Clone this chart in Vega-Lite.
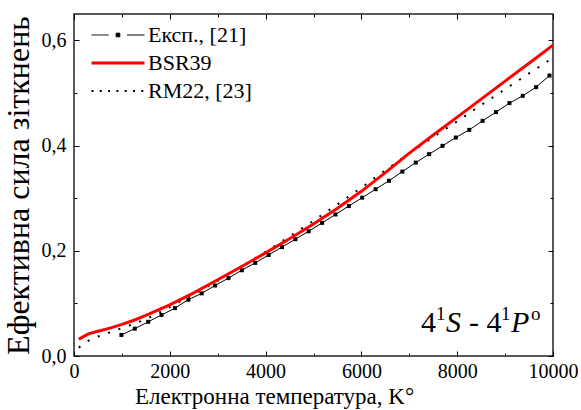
{
  "$schema": "https://vega.github.io/schema/vega-lite/v6.json",
  "width": 479,
  "height": 342,
  "autosize": {"type": "none"},
  "padding": {"left": 74, "top": 14, "right": 28, "bottom": 54},
  "background": "white",
  "config": {
    "view": {"stroke": "#222", "strokeWidth": 1.5},
    "font": "Liberation Serif",
    "axis": {"domain": false, "grid": false, "tickColor": "#000", "tickWidth": 1, "labelColor": "#000", "titleColor": "#000", "labelFont": "Liberation Serif", "titleFont": "Liberation Serif", "titleFontWeight": "normal", "labelFlush": false, "labelOverlap": false}
  },
  "data": {"values": [
    {"s": "BSR39", "T": 100, "v": 0.032}, {"s": "BSR39", "T": 300, "v": 0.042}, {"s": "BSR39", "T": 500, "v": 0.047}, {"s": "BSR39", "T": 750, "v": 0.053}, {"s": "BSR39", "T": 1000, "v": 0.060}, {"s": "BSR39", "T": 1250, "v": 0.068}, {"s": "BSR39", "T": 1500, "v": 0.077}, {"s": "BSR39", "T": 1750, "v": 0.087}, {"s": "BSR39", "T": 2000, "v": 0.097}, {"s": "BSR39", "T": 2500, "v": 0.120}, {"s": "BSR39", "T": 3000, "v": 0.145}, {"s": "BSR39", "T": 3500, "v": 0.170}, {"s": "BSR39", "T": 4000, "v": 0.196}, {"s": "BSR39", "T": 4500, "v": 0.223}, {"s": "BSR39", "T": 5000, "v": 0.251}, {"s": "BSR39", "T": 5500, "v": 0.281}, {"s": "BSR39", "T": 6000, "v": 0.313}, {"s": "BSR39", "T": 6500, "v": 0.3486}, {"s": "BSR39", "T": 7000, "v": 0.3857}, {"s": "BSR39", "T": 7500, "v": 0.4199}, {"s": "BSR39", "T": 8000, "v": 0.454}, {"s": "BSR39", "T": 8500, "v": 0.4882}, {"s": "BSR39", "T": 9000, "v": 0.5224}, {"s": "BSR39", "T": 9500, "v": 0.5565}, {"s": "BSR39", "T": 10000, "v": 0.5907},
    {"s": "RM22, [23]", "T": 100, "v": 0.016}, {"s": "RM22, [23]", "T": 300, "v": 0.029}, {"s": "RM22, [23]", "T": 500, "v": 0.037}, {"s": "RM22, [23]", "T": 750, "v": 0.045}, {"s": "RM22, [23]", "T": 1000, "v": 0.053}, {"s": "RM22, [23]", "T": 1250, "v": 0.061}, {"s": "RM22, [23]", "T": 1500, "v": 0.070}, {"s": "RM22, [23]", "T": 1750, "v": 0.081}, {"s": "RM22, [23]", "T": 2000, "v": 0.093}, {"s": "RM22, [23]", "T": 2500, "v": 0.117}, {"s": "RM22, [23]", "T": 3000, "v": 0.143}, {"s": "RM22, [23]", "T": 3500, "v": 0.170}, {"s": "RM22, [23]", "T": 4000, "v": 0.198}, {"s": "RM22, [23]", "T": 4500, "v": 0.227}, {"s": "RM22, [23]", "T": 5000, "v": 0.257}, {"s": "RM22, [23]", "T": 5500, "v": 0.288}, {"s": "RM22, [23]", "T": 6000, "v": 0.320}, {"s": "RM22, [23]", "T": 6500, "v": 0.353}, {"s": "RM22, [23]", "T": 7000, "v": 0.385}, {"s": "RM22, [23]", "T": 7500, "v": 0.416}, {"s": "RM22, [23]", "T": 8000, "v": 0.446}, {"s": "RM22, [23]", "T": 8500, "v": 0.477}, {"s": "RM22, [23]", "T": 9000, "v": 0.507}, {"s": "RM22, [23]", "T": 9500, "v": 0.537}, {"s": "RM22, [23]", "T": 10000, "v": 0.567},
    {"s": "Експ., [21]", "T": 990, "v": 0.040}, {"s": "Експ., [21]", "T": 1269, "v": 0.052}, {"s": "Експ., [21]", "T": 1549, "v": 0.065}, {"s": "Експ., [21]", "T": 1828, "v": 0.078}, {"s": "Експ., [21]", "T": 2107, "v": 0.091}, {"s": "Експ., [21]", "T": 2387, "v": 0.107}, {"s": "Експ., [21]", "T": 2666, "v": 0.119}, {"s": "Експ., [21]", "T": 2945, "v": 0.134}, {"s": "Експ., [21]", "T": 3224, "v": 0.148}, {"s": "Експ., [21]", "T": 3504, "v": 0.163}, {"s": "Експ., [21]", "T": 3783, "v": 0.177}, {"s": "Експ., [21]", "T": 4062, "v": 0.192}, {"s": "Експ., [21]", "T": 4342, "v": 0.207}, {"s": "Експ., [21]", "T": 4621, "v": 0.222}, {"s": "Експ., [21]", "T": 4900, "v": 0.237}, {"s": "Експ., [21]", "T": 5180, "v": 0.253}, {"s": "Експ., [21]", "T": 5459, "v": 0.269}, {"s": "Експ., [21]", "T": 5738, "v": 0.285}, {"s": "Експ., [21]", "T": 6017, "v": 0.301}, {"s": "Експ., [21]", "T": 6297, "v": 0.317}, {"s": "Експ., [21]", "T": 6576, "v": 0.333}, {"s": "Експ., [21]", "T": 6855, "v": 0.3505}, {"s": "Експ., [21]", "T": 7135, "v": 0.3676}, {"s": "Експ., [21]", "T": 7414, "v": 0.3836}, {"s": "Експ., [21]", "T": 7693, "v": 0.3994}, {"s": "Експ., [21]", "T": 7972, "v": 0.4152}, {"s": "Експ., [21]", "T": 8252, "v": 0.4298}, {"s": "Експ., [21]", "T": 8531, "v": 0.447}, {"s": "Експ., [21]", "T": 8810, "v": 0.4635}, {"s": "Експ., [21]", "T": 9090, "v": 0.4806}, {"s": "Експ., [21]", "T": 9369, "v": 0.4945}, {"s": "Експ., [21]", "T": 9648, "v": 0.511}, {"s": "Експ., [21]", "T": 9927, "v": 0.533}
  ]},
  "resolve": {"axis": {"x": "independent", "y": "independent"}},
  "layer": [
    {
      "transform": [{"filter": "datum.s === 'Експ., [21]'"}],
      "mark": {"type": "line", "strokeWidth": 1, "clip": true},
      "encoding": {
        "x": {"field": "T", "type": "quantitative", "scale": {"domain": [0, 10000], "nice": false, "zero": false},
          "axis": {"orient": "bottom", "values": [1000, 3000, 5000, 7000, 9000], "tickSize": -3, "labels": false, "title": null}},
        "y": {"field": "v", "type": "quantitative", "scale": {"domain": [0, 0.65], "nice": false},
          "axis": {"orient": "left", "values": [0.1, 0.3, 0.5], "tickSize": -3, "labels": false, "title": null}},
        "color": {"field": "s", "type": "nominal",
          "scale": {"domain": ["Експ., [21]", "BSR39", "RM22, [23]"], "range": ["#000000", "#ff0000", "#000000"]},
          "legend": {
            "orient": "none", "legendX": 15, "legendY": 10, "title": null, "padding": 0,
            "labelFont": "Liberation Serif", "labelFontSize": 22, "labelColor": "#000",
            "symbolType": "stroke", "symbolSize": 2809, "symbolOffset": 18, "labelOffset": 19, "rowPadding": 6,
            "encode": {
              "symbols": {"update": {
              "shape": {"signal": "datum.value === 'Експ., [21]' ? 'M-1,0H-0.35M-0.07,-0.07H0.07V0.07H-0.07ZM0.34,0H1' : 'stroke'"},
              "strokeWidth": {"signal": "datum.value === 'BSR39' ? 3 : (datum.value === 'RM22, [23]' ? 2 : 1)"},
              "strokeDash": {"signal": "datum.value === 'RM22, [23]' ? [2, 6.3] : [1, 0]"},
              "fill": {"signal": "datum.value === 'Експ., [21]' ? '#000' : 'transparent'"},
              "stroke": {"signal": "datum.value === 'BSR39' ? '#ff0000' : '#000'"},
              "opacity": {"value": 1}
            }}}
          }}
      }
    },
    {
      "transform": [{"filter": "datum.s === 'Експ., [21]'"}],
      "mark": {"type": "point", "shape": "square", "filled": true, "size": 16, "color": "#000", "opacity": 1},
      "encoding": {
        "x": {"field": "T", "type": "quantitative", "scale": {"domain": [0, 10000], "nice": false, "zero": false},
          "axis": {"orient": "top", "values": [0, 2000, 4000, 6000, 8000, 10000], "tickSize": -5, "labels": false, "title": null}},
        "y": {"field": "v", "type": "quantitative", "scale": {"domain": [0, 0.65], "nice": false},
          "axis": {"orient": "right", "values": [0, 0.2, 0.4, 0.6], "tickSize": -5, "labels": false, "title": null}}
      }
    },
    {
      "transform": [{"filter": "datum.s === 'RM22, [23]'"}],
      "mark": {"type": "line", "strokeWidth": 2, "strokeDash": [2, 9], "clip": true},
      "encoding": {
        "x": {"field": "T", "type": "quantitative", "scale": {"domain": [0, 10000], "nice": false, "zero": false},
          "axis": {"orient": "top", "values": [1000, 3000, 5000, 7000, 9000], "tickSize": -3, "labels": false, "title": null}},
        "y": {"field": "v", "type": "quantitative", "scale": {"domain": [0, 0.65], "nice": false},
          "axis": {"orient": "right", "values": [0.1, 0.3, 0.5], "tickSize": -3, "labels": false, "title": null}},
        "color": {"field": "s", "type": "nominal"}
      }
    },
    {
      "transform": [{"filter": "datum.s === 'BSR39'"}],
      "mark": {"type": "line", "strokeWidth": 3, "clip": true},
      "encoding": {
        "x": {"field": "T", "type": "quantitative", "scale": {"domain": [0, 10000], "nice": false, "zero": false},
          "axis": {"orient": "bottom", "values": [0, 2000, 4000, 6000, 8000, 10000], "tickSize": -5, "format": "d",
            "labelFontSize": 20, "labelPadding": 10, "title": "Електронна температура, K°", "titleFontSize": 23, "titlePadding": 4, "titleX": 200}},
        "y": {"field": "v", "type": "quantitative", "scale": {"domain": [0, 0.65], "nice": false},
          "axis": {"orient": "left", "values": [0, 0.2, 0.4, 0.6], "tickSize": -5,
            "labelExpr": "replace(format(datum.value, '.1f'), '.', ',')",
            "labelFontSize": 20, "labelPadding": 13, "title": "Ефективна сила зіткнень", "titleFontSize": 32, "titlePadding": 6}},
        "color": {"field": "s", "type": "nominal"}
      }
    },
    {
      "data": {"values": [{"t": "4"}]},
      "mark": {"type": "text", "align": "left", "baseline": "alphabetic", "fontSize": 30, "font": "Liberation Serif", "color": "#000"},
      "encoding": {"x": {"datum": 7245, "type": "quantitative", "axis": null}, "y": {"datum": 0.0456, "type": "quantitative", "axis": null}, "text": {"field": "t"}}
    },
    {
      "data": {"values": [{"t": "1"}]},
      "mark": {"type": "text", "align": "left", "baseline": "alphabetic", "fontSize": 19, "dx": 15, "dy": -12, "font": "Liberation Serif", "color": "#000"},
      "encoding": {"x": {"datum": 7245, "type": "quantitative", "axis": null}, "y": {"datum": 0.0456, "type": "quantitative", "axis": null}, "text": {"field": "t"}}
    },
    {
      "data": {"values": [{"t": "S"}]},
      "mark": {"type": "text", "align": "left", "baseline": "alphabetic", "fontSize": 30, "fontStyle": "italic", "dx": 25, "font": "Liberation Serif", "color": "#000"},
      "encoding": {"x": {"datum": 7245, "type": "quantitative", "axis": null}, "y": {"datum": 0.0456, "type": "quantitative", "axis": null}, "text": {"field": "t"}}
    },
    {
      "data": {"values": [{"t": "- 4"}]},
      "mark": {"type": "text", "align": "left", "baseline": "alphabetic", "fontSize": 30, "dx": 48, "font": "Liberation Serif", "color": "#000"},
      "encoding": {"x": {"datum": 7245, "type": "quantitative", "axis": null}, "y": {"datum": 0.0456, "type": "quantitative", "axis": null}, "text": {"field": "t"}}
    },
    {
      "data": {"values": [{"t": "1"}]},
      "mark": {"type": "text", "align": "left", "baseline": "alphabetic", "fontSize": 19, "dx": 80, "dy": -12, "font": "Liberation Serif", "color": "#000"},
      "encoding": {"x": {"datum": 7245, "type": "quantitative", "axis": null}, "y": {"datum": 0.0456, "type": "quantitative", "axis": null}, "text": {"field": "t"}}
    },
    {
      "data": {"values": [{"t": "P"}]},
      "mark": {"type": "text", "align": "left", "baseline": "alphabetic", "fontSize": 30, "fontStyle": "italic", "dx": 90, "font": "Liberation Serif", "color": "#000"},
      "encoding": {"x": {"datum": 7245, "type": "quantitative", "axis": null}, "y": {"datum": 0.0456, "type": "quantitative", "axis": null}, "text": {"field": "t"}}
    },
    {
      "data": {"values": [{"t": "o"}]},
      "mark": {"type": "text", "align": "left", "baseline": "alphabetic", "fontSize": 19, "dx": 110, "dy": -12, "font": "Liberation Serif", "color": "#000"},
      "encoding": {"x": {"datum": 7245, "type": "quantitative", "axis": null}, "y": {"datum": 0.0456, "type": "quantitative", "axis": null}, "text": {"field": "t"}}
    }
  ]
}
